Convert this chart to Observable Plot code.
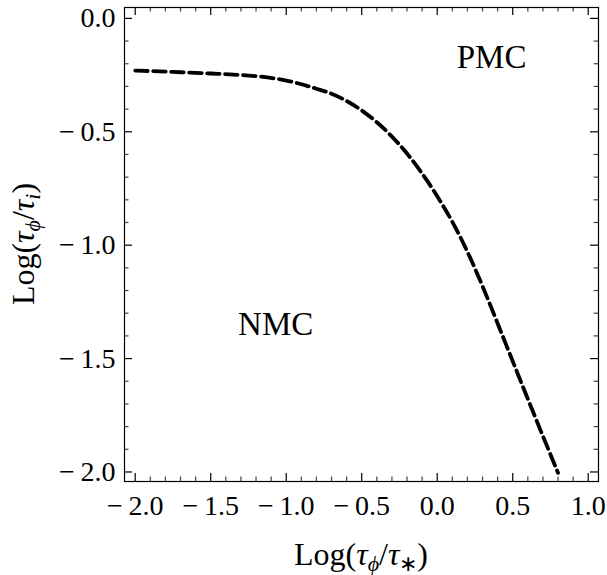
<!DOCTYPE html>
<html><head><meta charset="utf-8">
<script src="https://cdn.jsdelivr.net/npm/d3@7"></script>
<script src="https://cdn.jsdelivr.net/npm/@observablehq/plot@0.6"></script>
<style>body{margin:0;background:#fff} svg{display:block}</style>
</head><body><div id="chart"></div>
<script>
// Boundary curve between NMC and PMC regions
const curveX = [-2.0, -1.75, -1.5, -1.25, -1.0, -0.8, -0.7, -0.6, -0.5, -0.4, -0.3, -0.2, -0.1, 0.0, 0.1, 0.2, 0.3, 0.4, 0.5, 0.6, 0.7, 0.8];
const curveY = [-0.230, -0.236, -0.243, -0.252, -0.274, -0.310, -0.332, -0.364, -0.406, -0.458, -0.521, -0.596, -0.684, -0.784, -0.897, -1.029, -1.181, -1.345, -1.512, -1.678, -1.842, -2.004];

const xMajor = [-2.0, -1.5, -1.0, -0.5, 0.0, 0.5, 1.0];
const yMajor = [-2.0, -1.5, -1.0, -0.5, 0.0];

const regionText = ["PMC", "NMC"];
const regionX = [0.36, -1.07];
const regionY = [-0.174, -1.35];

const xDomain = [-2.071, 1.068];
const yDomain = [-2.042, 0.048];

const curve = curveX.map((x, i) => ({x, y: curveY[i]}));
const regions = regionText.map((t, i) => ({t, x: regionX[i], y: regionY[i]}));
const isMajor = (v, majors) => majors.some(m => Math.abs(m - v) < 1e-9);
const xMinor = d3.range(-20, 11).map(i => i / 10).filter(v => !isMajor(v, xMajor));
const yMinor = d3.range(-20, 1).map(i => i / 10).filter(v => !isMajor(v, yMajor));

const W = 607, H = 575;
const mt = 7, mr = 9, mb = 94, ml = 124;
const fw = W - ml - mr, fh = H - mt - mb;
const MAJ = 8, MIN = 4.5;
const fmt = d => (d < -1e-9 ? "\u2212\u2009" : "") + Math.abs(d).toFixed(1);
const serif = "'Liberation Serif', 'Times New Roman', serif";

const chart = Plot.plot({
  width: W, height: H,
  marginTop: mt, marginRight: mr, marginBottom: mb, marginLeft: ml,
  style: {fontFamily: serif, background: "#fff", color: "#000"},
  x: {domain: xDomain},
  y: {domain: yDomain},
  marks: [
    Plot.tickX(xMinor, {x: d => d, insetTop: fh - MIN, stroke: "#444", strokeWidth: 1.2}),
    Plot.tickX(xMinor, {x: d => d, insetBottom: fh - MIN, stroke: "#444", strokeWidth: 1.2}),
    Plot.tickX(xMajor, {x: d => d, insetTop: fh - MAJ, stroke: "#000", strokeWidth: 1.2}),
    Plot.tickX(xMajor, {x: d => d, insetBottom: fh - MAJ, stroke: "#000", strokeWidth: 1.2}),
    Plot.tickY(yMinor, {y: d => d, insetRight: fw - MIN, stroke: "#444", strokeWidth: 1.2}),
    Plot.tickY(yMinor, {y: d => d, insetLeft: fw - MIN, stroke: "#444", strokeWidth: 1.2}),
    Plot.tickY(yMajor, {y: d => d, insetRight: fw - MAJ, stroke: "#000", strokeWidth: 1.2}),
    Plot.tickY(yMajor, {y: d => d, insetLeft: fw - MAJ, stroke: "#000", strokeWidth: 1.2}),
    Plot.frame({stroke: "#000", strokeWidth: 1.2}),
    Plot.axisX(xMajor, {tickSize: 0, tickPadding: 14, tickFormat: fmt, label: null, fontSize: 28}),
    Plot.axisY(yMajor, {tickSize: 0, tickPadding: 9, tickFormat: fmt, label: null, fontSize: 28}),
    Plot.line(curve, {x: "x", y: "y", curve: "natural", stroke: "#000", strokeWidth: 3.8, strokeDasharray: "12.5,5.5"}),
    Plot.text(regions, {x: "x", y: "y", text: "t", fontSize: 33, fill: "#000", textAnchor: "middle", lineAnchor: "middle"})
  ]
});

const svg = d3.select(chart);

function title(sel, sub2, sub2Italic) {
  sel.append("tspan").text("Log(");
  sel.append("tspan").attr("font-style", "italic").text("\u03C4");
  sel.append("tspan").attr("font-style", "italic").attr("font-size", 22).attr("dy", 6).text("\u03D5");
  sel.append("tspan").attr("dy", -6).text("/");
  sel.append("tspan").attr("font-style", "italic").text("\u03C4");
  sel.append("tspan").attr("font-style", sub2Italic ? "italic" : "normal").attr("font-size", 22).attr("dy", 6).text(sub2);
  sel.append("tspan").attr("dy", -6).text(")");
}
// X axis title: Log(τϕ/τ∗)
const xt = svg.append("text")
  .attr("x", ml + fw / 2).attr("y", 565)
  .attr("text-anchor", "middle")
  .attr("font-family", serif).attr("font-size", 32).attr("fill", "#000");
title(xt, "\u2217", false);

// Y axis title: Log(τϕ/τi)
const yt = svg.append("text")
  .attr("transform", `translate(34,${mt + fh / 2}) rotate(-90)`)
  .attr("text-anchor", "middle")
  .attr("font-family", serif).attr("font-size", 32).attr("fill", "#000");
title(yt, "i", true);

document.getElementById("chart").appendChild(chart);
</script>
</body></html>
